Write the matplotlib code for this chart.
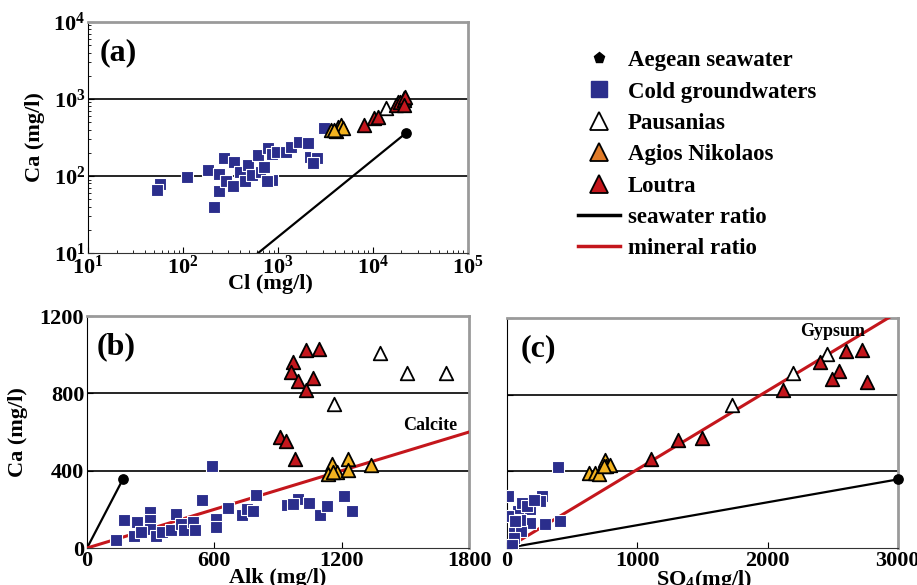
import numpy as np
import matplotlib
matplotlib.use("Agg")
import matplotlib.pyplot as plt
from matplotlib.lines import Line2D
from matplotlib.ticker import LogLocator, LogFormatterMathtext, NullFormatter

plt.rcParams['font.family'] = ['Liberation Serif', 'DejaVu Serif']
plt.rcParams['font.weight'] = 'bold'
plt.rcParams['mathtext.fontset'] = 'custom'
plt.rcParams['mathtext.rm'] = 'Liberation Serif:bold'
plt.rcParams['mathtext.it'] = 'Liberation Serif:bold:italic'
plt.rcParams['mathtext.bf'] = 'Liberation Serif:bold'
plt.rcParams['mathtext.default'] = 'rm'

BLUE = '#2b2e8c'
RED = '#c4161c'
GOLD = '#f2b21f'
ORANGE = '#e07b28'

# ---- seawater ----
sea_cl, sea_alk, sea_so4, sea_ca = 22200, 170, 3000, 358
calcite_ratio = 1 / 3
gypsum_ratio = 0.41

# ---- panel (a): Ca vs Cl ----
a_cold_cl = [57, 53.5, 110, 182, 215, 237, 241, 274, 283, 333, 349, 401, 452, 490, 540, 614,
             665, 721, 782, 861, 875, 988, 1218, 1375, 1668, 2057, 2177, 2557, 2362, 3056, 763]
a_cold_ca = [78, 66, 98, 120, 40, 63, 106, 173, 85, 74, 151, 114, 85, 139, 103, 187,
             112, 132, 233, 89, 193, 207, 207, 240, 279, 271, 179, 170, 146, 424, 85]
a_paus_cl = [13900, 18400, 21300]
a_paus_ca = [755, 921, 1038]
a_agios_cl = [3613, 4080, 4320, 4680, 4870, 3900]
a_agios_ca = [395, 384, 437, 459, 416, 400]
a_lout_cl = [8030, 10310, 11350, 17700, 19200, 21100, 21650, 21300]
a_lout_ca = [459, 560, 577, 833, 921, 968, 1070, 833]

# ---- panel (b): Ca vs Alk ----
b_cold_alk = [591, 135, 175, 237, 222, 299, 299, 299, 256, 324, 355, 398, 421, 445, 457, 500,
              508, 542, 610, 610, 662, 728, 752, 780, 794, 943, 995, 1046, 1097, 1129, 1212,
              1250, 971]
b_cold_ca = [423, 40, 143, 135, 60, 187, 143, 100, 83, 60, 83, 92, 178, 126, 95, 135,
             92, 247, 152, 109, 209, 173, 204, 192, 276, 221, 256, 235, 169, 218, 269,
             192, 230]
b_paus_alk = [1380, 1506, 1691, 1165]
b_paus_ca = [1007, 907, 903, 743]
b_agios_alk = [1155, 1137, 1179, 1228, 1228, 1336, 1160]
b_agios_ca = [433, 385, 394, 463, 402, 428, 394]
b_lout_alk = [1034, 1094, 971, 960, 992, 1066, 1031, 909, 937, 979]
b_lout_ca = [1024, 1029, 964, 912, 864, 877, 817, 575, 554, 463]

# ---- panel (c): Ca vs SO4 ----
c_cold_so4 = [388, 408, 8, 268, 250, 179, 82, 115, 153, 8, 179, 289, 51, 110, 51, 38, 97, 204, 64]
c_cold_ca = [421, 143, 270, 270, 243, 205, 191, 235, 217, 165, 130, 127, 104, 90, 52, 17, 148, 252, 139]
c_paus_so4 = [2459, 2196, 1728]
c_paus_ca = [1012, 913, 744]
c_agios_so4 = [753, 760, 791, 626, 677, 702, 745]
c_agios_ca = [461, 430, 435, 391, 391, 386, 426]
c_lout_so4 = [2604, 2724, 2400, 2548, 2494, 2765, 2119, 1103, 1315, 1494]
c_lout_ca = [1026, 1035, 969, 922, 882, 864, 823, 466, 562, 574]


def style_axes(ax):
    for side in ('top', 'right'):
        ax.spines[side].set_color('#9a9a9a')
        ax.spines[side].set_linewidth(2)
    ax.spines['left'].set_color('black')
    ax.spines['bottom'].set_color('#333333')
    ax.tick_params(which='both', direction='in', labelsize=16, pad=2)
    ax.tick_params(which='major', length=4)
    ax.tick_params(which='minor', length=2.5)


def scatter_groups(ax, cold, paus, agios, lout):
    ax.scatter(*cold, marker='s', s=75, color=BLUE, edgecolor='white', linewidth=0.8, zorder=4)
    ax.scatter(*paus, marker='^', s=95, facecolor='white', edgecolor='black', linewidth=1.3, zorder=5)
    ax.scatter(*agios, marker='^', s=95, facecolor=GOLD, edgecolor='black', linewidth=1.3, zorder=5)
    ax.scatter(*lout, marker='^', s=95, facecolor=RED, edgecolor='black', linewidth=1.3, zorder=5)


fig = plt.figure(figsize=(9.17, 5.85), dpi=100)

# (a)
ax_a = fig.add_axes([0.096, 0.5675, 0.414, 0.395])
ax_a.set_xscale('log')
ax_a.set_yscale('log')
ax_a.set_xlim(10, 1e5)
ax_a.set_ylim(10, 1e4)
for v in (100, 1000):
    ax_a.axhline(v, color='black', lw=1.2, zorder=1)
cl_line = np.geomspace(100, sea_cl, 50)
ax_a.plot(cl_line, cl_line * sea_ca / sea_cl, color='black', lw=1.6, zorder=3)
ax_a.scatter([sea_cl], [sea_ca], color='black', s=45, zorder=6)
scatter_groups(ax_a, (a_cold_cl, a_cold_ca), (a_paus_cl, a_paus_ca),
               (a_agios_cl, a_agios_ca), (a_lout_cl, a_lout_ca))
for axis in (ax_a.xaxis, ax_a.yaxis):
    axis.set_major_locator(LogLocator(base=10, numticks=10))
    axis.set_minor_locator(LogLocator(base=10, subs=np.arange(2, 10), numticks=10))
    axis.set_major_formatter(LogFormatterMathtext())
    axis.set_minor_formatter(NullFormatter())
style_axes(ax_a)
ax_a.set_xlabel('Cl (mg/l)', fontsize=16, fontweight='bold')
ax_a.xaxis.set_label_coords(0.48, -0.09)
ax_a.set_ylabel('Ca (mg/l)', fontsize=16, fontweight='bold')
ax_a.yaxis.set_label_coords(-0.113, 0.5)
ax_a.text(0.03, 0.93, '(a)', transform=ax_a.transAxes, fontsize=23, fontweight='bold', va='top')

# (b)
ax_b = fig.add_axes([0.0949, 0.0632, 0.4166, 0.3966])
ax_b.set_xlim(0, 1800)
ax_b.set_ylim(0, 1200)
for v in (400, 800):
    ax_b.axhline(v, color='black', lw=1.2, zorder=1)
ax_b.plot([0, sea_alk], [0, sea_ca], color='black', lw=1.6, zorder=3)
ax_b.scatter([sea_alk], [sea_ca], color='black', s=45, zorder=6)
alk_line = np.array([0, 1800])
ax_b.plot(alk_line, alk_line * calcite_ratio, color=RED, lw=2.2, zorder=3)
scatter_groups(ax_b, (b_cold_alk, b_cold_ca), (b_paus_alk, b_paus_ca),
               (b_agios_alk, b_agios_ca), (b_lout_alk, b_lout_ca))
ax_b.set_xticks([0, 600, 1200, 1800])
ax_b.set_yticks([0, 400, 800, 1200])
style_axes(ax_b)
ax_b.set_xlabel('Alk (mg/l)', fontsize=16, fontweight='bold')
ax_b.xaxis.set_label_coords(0.5, -0.085)
ax_b.set_ylabel('Ca (mg/l)', fontsize=16, fontweight='bold')
ax_b.yaxis.set_label_coords(-0.154, 0.5)
ax_b.text(0.025, 0.93, '(b)', transform=ax_b.transAxes, fontsize=23, fontweight='bold', va='top')
ax_b.text(1745, 635, 'Calcite', fontsize=13, fontweight='bold', ha='right', va='center')

# (c)
ax_c = fig.add_axes([0.553, 0.0632, 0.426, 0.3932])
ax_c.set_xlim(0, 3000)
ax_c.set_ylim(0, 1200)
for v in (400, 800):
    ax_c.axhline(v, color='black', lw=1.2, zorder=1)
ax_c.plot([0, sea_so4], [0, sea_ca], color='black', lw=1.6, zorder=3)
ax_c.scatter([sea_so4], [sea_ca], color='black', s=45, zorder=6, clip_on=False)
so4_line = np.array([0, 3000])
ax_c.plot(so4_line, so4_line * gypsum_ratio, color=RED, lw=2.2, zorder=3)
scatter_groups(ax_c, (c_cold_so4, c_cold_ca), (c_paus_so4, c_paus_ca),
               (c_agios_so4, c_agios_ca), (c_lout_so4, c_lout_ca))
ax_c.set_xticks([0, 1000, 2000, 3000])
ax_c.set_yticks([0, 400, 800, 1200])
ax_c.set_yticklabels([])
style_axes(ax_c)
ax_c.set_xlabel('SO$_4$(mg/l)', fontsize=16, fontweight='bold')
ax_c.xaxis.set_label_coords(0.505, -0.085)
ax_c.text(0.035, 0.93, '(c)', transform=ax_c.transAxes, fontsize=23, fontweight='bold', va='top')
ax_c.text(2750, 1130, 'Gypsum', fontsize=13, fontweight='bold', ha='right', va='center')

# legend
handles = [
    Line2D([], [], ls='none', marker='p', color='black', markersize=8),
    Line2D([], [], ls='none', marker='s', color=BLUE, markersize=12),
    Line2D([], [], ls='none', marker='^', markerfacecolor='white', markeredgecolor='black', markersize=13, mew=1.3),
    Line2D([], [], ls='none', marker='^', markerfacecolor=ORANGE, markeredgecolor='black', markersize=13, mew=1.3),
    Line2D([], [], ls='none', marker='^', markerfacecolor=RED, markeredgecolor='black', markersize=13, mew=1.3),
    Line2D([], [], color='black', lw=2.5),
    Line2D([], [], color=RED, lw=2.5),
]
labels = ['Aegean seawater', 'Cold groundwaters', 'Pausanias', 'Agios Nikolaos', 'Loutra',
          'seawater ratio', 'mineral ratio']
fig.legend(handles, labels, loc='upper left', bbox_to_anchor=(0.62, 0.93), frameon=False,
           prop={'family': 'Liberation Serif', 'weight': 'bold', 'size': 16.5},
           handlelength=1.85, handletextpad=0.35, labelspacing=0.45, borderaxespad=0)

fig.savefig('out.png', dpi=100)
